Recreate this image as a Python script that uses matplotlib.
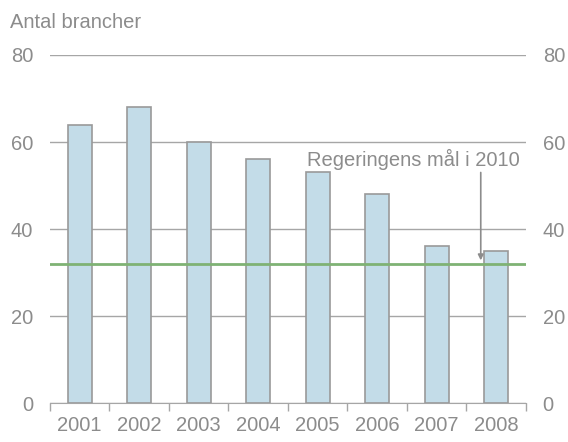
import matplotlib.pyplot as plt
import numpy as np

plt.rcParams['font.family'] = ['Liberation Sans', 'DejaVu Sans']

# data
years = ['2001', '2002', '2003', '2004', '2005', '2006', '2007', '2008']
brancher = [64, 68, 60, 56, 53, 48, 36, 35]
maal_2010 = 32

grey = '#8c8c8c'
fs = 14.5
fig = plt.figure(figsize=(5.68, 4.42), dpi=100)
ax = fig.add_axes([0.088, 0.088, 0.838, 0.7876])

x = np.arange(len(years))
ax.bar(x, brancher, width=0.41, color='#c3dce8', edgecolor='#999999', linewidth=1.2, zorder=2)
ax.axhline(maal_2010, color='#7fb274', lw=2, zorder=3)

ax.set_xlim(-0.5, len(years) - 0.5)
ax.set_ylim(0, 80)
ax.set_yticks([0, 20, 40, 60, 80])
ax.yaxis.grid(True, color='#a6a6a6', lw=1, zorder=0)
ax.set_axisbelow(True)

ax.set_xticks(x)
ax.set_xticklabels(years)
ax.set_xticks(np.arange(-0.5, len(years)), minor=True)
ax.tick_params(axis='x', which='major', length=0, pad=9, labelsize=fs, labelcolor=grey)
ax.tick_params(axis='x', which='minor', length=6, color='#a6a6a6', width=1)
ax.tick_params(axis='y', length=0, pad=12, labelsize=fs, labelcolor=grey,
               labelright=True)

for s in ['top', 'left', 'right']:
    ax.spines[s].set_visible(False)
ax.spines['bottom'].set_color('#a6a6a6')

fig.text(0.018, 0.948, 'Antal brancher', fontsize=fs, color=grey, va='center')

# target label with a vertical arrow down to the line
ax.text(7.40, 56.0, 'Regeringens mål i 2010', fontsize=fs, color=grey,
        ha='right', va='center')
ax.annotate('', xy=(6.74, 32.8), xytext=(6.74, 53.0),
            arrowprops=dict(arrowstyle='-|>', color=grey, lw=1.2,
                            mutation_scale=8, shrinkA=0, shrinkB=0))

fig.savefig('out.png', dpi=100)
